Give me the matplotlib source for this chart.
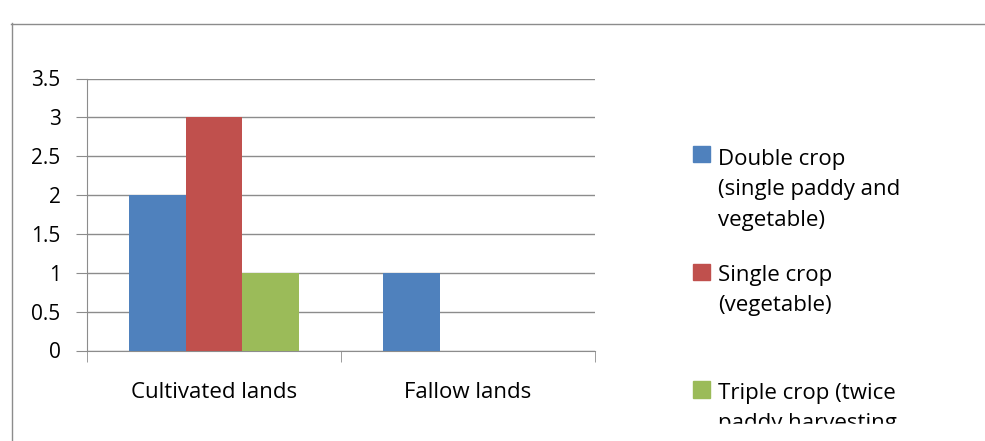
import matplotlib
matplotlib.use("Agg")
import matplotlib.pyplot as plt
import numpy as np
from matplotlib.patches import Rectangle
from matplotlib.lines import Line2D

categories = ["Cultivated lands", "Fallow lands"]
series_names = ["Double crop (single paddy and vegetable)",
                "Single crop (vegetable)",
                "Triple crop (twice paddy harvesting)"]
legend_lines = [["Double crop", "(single paddy and", "vegetable)"],
                ["Single crop", "(vegetable)"],
                ["Triple crop (twice", "paddy harvesting"]]
double_crop = [2, 1]
single_crop = [3, 0]
triple_crop = [1, 0]
yticks = [0, 0.5, 1, 1.5, 2, 2.5, 3, 3.5]
ytick_labels = ["0", "0.5", "1", "1.5", "2", "2.5", "3", "3.5"]

colors = ["#4F81BD", "#C0504D", "#9BBB59"]
FONT = ["Open Sans", "DejaVu Sans"]
plt.rcParams['font.family'] = FONT

W, H = 985, 441
fig = plt.figure(figsize=(W/100, H/100), dpi=100)

def fx(px):
    return px / W
def fy(py):
    return 1 - py / H

# chart frame
fig.add_artist(Line2D([fx(11), fx(985)], [fy(23.5), fy(23.5)], color="#8c8c8c", lw=1.0))
fig.add_artist(Line2D([fx(11.5), fx(11.5)], [fy(23), fy(441)], color="#8c8c8c", lw=1.0))

ax = fig.add_axes([fx(87), fy(350.5), fx(595) - fx(87), fy(78.5) - fy(350.5)])
x = np.arange(len(categories))
bw = 0.223
for i, vals in enumerate([double_crop, single_crop, triple_crop]):
    ax.bar(x + (i - 1) * bw, vals, width=bw, color=colors[i], zorder=3)

ax.set_xlim(-0.5, len(categories) - 0.5)
ax.set_ylim(0, 3.5)
ax.set_yticks(yticks)
ax.set_yticklabels(ytick_labels, fontsize=15)
ax.set_xticks(x)
ax.set_xticklabels(categories, fontsize=16)
ax.set_xticks([-0.5, 0.5, 1.5], minor=True)
ax.tick_params(axis="x", which="major", length=0, pad=23)
ax.tick_params(axis="x", which="minor", length=8, color="#8c8c8c", direction="out")
ax.tick_params(axis="y", length=8, color="#8c8c8c", direction="out", pad=11)
ax.yaxis.grid(True, color="#8c8c8c", lw=1)
for s in ["top", "right"]:
    ax.spines[s].set_visible(False)
for s in ["left", "bottom"]:
    ax.spines[s].set_color("#8c8c8c")
ax.set_axisbelow(True)

# legend
square_top = [146, 263.5, 381]
first_baseline = [165, 281, 399]
line_step = 30.5
for i, lines in enumerate(legend_lines):
    fig.add_artist(Rectangle((fx(693), fy(square_top[i] + 16.5)), fx(16.5), 16.5 / H,
                             color=colors[i], transform=fig.transFigure))
    for j, line in enumerate(lines):
        fig.text(fx(718), fy(first_baseline[i] + j * line_step), line, fontsize=16,
                 va="baseline", ha="left", color="#000000")

# clip bottom of legend text
fig.add_artist(Rectangle((fx(680), 0), fx(985) - fx(680), fy(424), color="white",
                         transform=fig.transFigure, zorder=10))

fig.savefig("out.png", dpi=100)
